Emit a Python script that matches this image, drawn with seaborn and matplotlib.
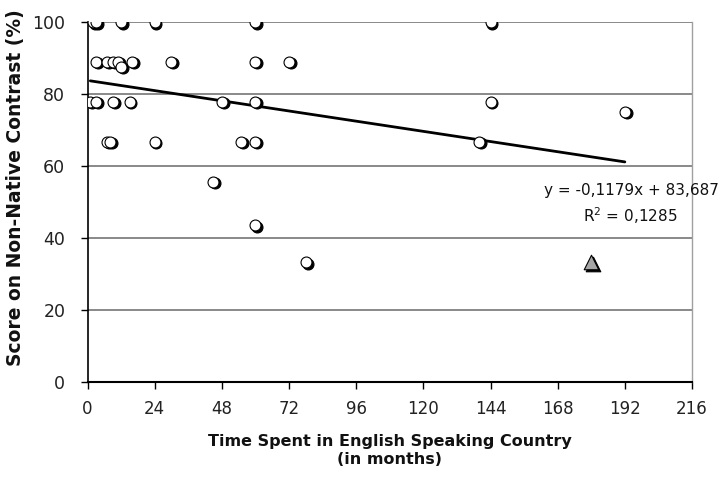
import matplotlib
matplotlib.use("Agg")
import matplotlib.pyplot as plt
from matplotlib.transforms import ScaledTranslation
import numpy as np
import pandas as pd
import seaborn as sns

# ---- data ----
months = [2, 3, 12, 24, 60, 144,
          3, 7, 9, 11, 16, 30, 60, 72,
          12,
          1, 3, 9, 15, 48, 60, 144,
          7, 8, 24, 55, 60, 140,
          45, 60, 78, 192]
scores = [100, 100, 100, 100, 100, 100,
          88.9, 88.9, 88.9, 88.9, 88.9, 88.9, 88.9, 88.9,
          87.5,
          77.8, 77.8, 77.8, 77.8, 77.8, 77.8, 77.8,
          66.7, 66.7, 66.7, 66.7, 66.7, 66.7,
          55.6, 43.5, 33.3, 75]
outlier_months = [180]
outlier_scores = [33.3]
slope = -0.1179
intercept = 83.687
eq_text = "y = -0,1179x + 83,687"
r2_text = "R$^2$ = 0,1285"
x_ticks = [0, 24, 48, 72, 96, 120, 144, 168, 192, 216]
y_ticks = [0, 20, 40, 60, 80, 100]

sns.set_theme(style="white")
plt.rcParams['font.family'] = ['DejaVu Sans']
plt.rcParams['mathtext.fontset'] = 'dejavusans'

fig = plt.figure(figsize=(7.21, 4.78), dpi=100)
ax = fig.add_axes([0.1214, 0.2015, 0.9598 - 0.1214, 0.9546 - 0.2015])

df = pd.DataFrame({"months": months, "score": scores})
dfo = pd.DataFrame({"months": outlier_months, "score": outlier_scores})

# trend line from stated coefficients, over data range
xr = np.array([min(months), max(months)], dtype=float)
dfl = pd.DataFrame({"months": xr, "score": intercept + slope * xr})

# gridlines
for yv in y_ticks[1:]:
    ax.axhline(yv, color="#808080", lw=1.3, zorder=0)

shadow = ScaledTranslation(1.8 / 100, -1.8 / 100, fig.dpi_scale_trans)

# shadow of circles
sns.scatterplot(data=df, x="months", y="score", ax=ax, color="black",
                s=62, edgecolor="black", linewidth=0.8, zorder=3, legend=False)
ax.collections[-1].set_offset_transform(ax.transData + shadow)
# white circles
sns.scatterplot(data=df, x="months", y="score", ax=ax, color="white",
                s=62, edgecolor="black", linewidth=0.8, zorder=4, legend=False)

# trend line
sns.lineplot(data=dfl, x="months", y="score", ax=ax, color="black", lw=2,
             zorder=3.5, legend=False)

# triangle outlier
sns.scatterplot(data=dfo, x="months", y="score", ax=ax, color="black",
                marker="^", s=110, edgecolor="black", linewidth=0.8,
                zorder=3, legend=False)
ax.collections[-1].set_offset_transform(ax.transData + shadow)
sns.scatterplot(data=dfo, x="months", y="score", ax=ax, color="#a6a6a6",
                marker="^", s=110, edgecolor="black", linewidth=0.8,
                zorder=4, legend=False)

ax.set_xlim(0, 216)
ax.set_ylim(0, 100)
ax.set_xticks(x_ticks)
ax.set_yticks(y_ticks)
ax.set_xticklabels([str(v) for v in x_ticks], fontsize=12, color="#222222")
ax.set_yticklabels([str(v) for v in y_ticks], fontsize=12.5, color="#222222")
ax.tick_params(axis="x", direction="out", length=5, width=1, color="black",
               bottom=True, pad=8)
ax.tick_params(axis="y", direction="out", length=5, width=1, color="black",
               left=True, pad=11)

ax.spines["top"].set_visible(False)
ax.spines["right"].set_color("#a0a0a0")
ax.spines["right"].set_linewidth(1)
ax.spines["left"].set_color("black")
ax.spines["left"].set_linewidth(1.2)
ax.spines["bottom"].set_color("black")
ax.spines["bottom"].set_linewidth(1.5)

ax.set_xlabel("Time Spent in English Speaking Country\n(in months)",
              fontsize=11.5, fontweight="bold", labelpad=12, linespacing=1.25,
              color="#111111")
ax.set_ylabel("Score on Non-Native Contrast (%)", fontsize=13.5,
              fontweight="bold", color="#111111")
ax.yaxis.set_label_coords(-0.104, 0.539)

fig.text(719 / 721, 1 - 190 / 478, eq_text, ha="right", va="center",
         fontsize=11, color="#111111")
fig.text(677 / 721, 1 - 216 / 478, r2_text, ha="right", va="center",
         fontsize=11, color="#111111")

fig.savefig("out.png", dpi=100)
